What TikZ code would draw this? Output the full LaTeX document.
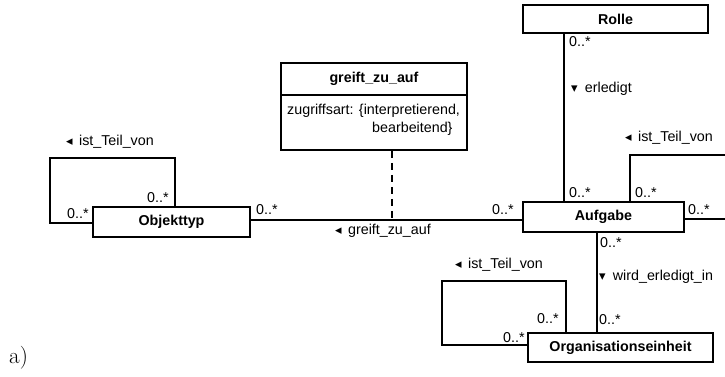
\documentclass[tikz,border=0pt]{standalone}
\usepackage{fontspec}
\newfontfamily\umlfont{Liberation Sans}
\newfontfamily\symfont{DejaVu Sans}
\newcommand\tri[1]{{\symfont\fontsize{13}{14}\selectfont #1}}
\begin{document}
\begin{tikzpicture}[x=1pt,y=-1pt,
  cls/.style={draw,line width=1.8pt,fill=white,inner sep=0pt,font=\umlfont\fontsize{14.3}{16}\selectfont\bfseries},
  conn/.style={line width=1.8pt},
  lbl/.style={anchor=base west,inner sep=0pt,font=\umlfont\fontsize{14.3}{16}\selectfont}]
\useasboundingbox (0,0) rectangle (725,377);
% classes
\node[cls,minimum width=185pt,minimum height=28pt] (rolle) at (615.5,19) {Rolle};
\node[cls,minimum width=161pt,minimum height=30pt] (auf) at (603.5,217) {Aufgabe};
\node[cls,minimum width=157pt,minimum height=30pt] (obj) at (171.5,222) {Objekttyp};
\node[cls,minimum width=185pt,minimum height=29pt] (org) at (620.5,347.5) {Organisationseinheit};
\node[cls,minimum width=186pt,minimum height=87pt] (gz) at (374,106.5) {};
\draw[conn] (gz.west |- 0,95) coordinate (dl) -- (gz.east |- 0,95) coordinate (dr);
\node[lbl,anchor=base] (gzt) at (374,83) {\bfseries greift\_zu\_auf};
\node[lbl] (gza1) at (287,115) {zugriffsart: \{interpretierend,};
\node[lbl] (gza2) at (372,132) {bearbeitend\}};
% connectors
\coordinate (mid) at (392,220);
\draw[conn] (obj.east |- 0,220) -- (auf.west |- 0,220);
\draw[conn,dash pattern=on 7pt off 5pt] (gz.south -| mid) -- (mid);
\draw[conn] (rolle.south -| 564,0) -- (auf.north -| 564,0);
\draw[conn] (auf.south -| 597,0) -- (org.north -| 597,0);
\draw[conn] (obj.north -| 175,0) -- (175,158) -- (50,158) -- (50,223) -- (obj.west |- 0,223);
\coordinate (e1) at (727,155);
\coordinate (e2) at (727,219);
\draw[conn] (auf.north -| 630,0) -- (630,155) -- (e1);
\draw[conn] (auf.east |- 0,219) -- (e2);
\draw[conn] (org.north -| 566,0) -- (566,281) -- (442,281) -- (442,345) -- (org.west |- 0,345);
% multiplicities
\node[lbl] (m1) at (147,202) {0..*};
\node[lbl] (m2) at (67,218) {0..*};
\node[lbl] (m3) at (256,214) {0..*};
\node[lbl] (m4) at (492,214) {0..*};
\node[lbl] (m5) at (569,47) {0..*};
\node[lbl] (m6) at (569,197) {0..*};
\node[lbl] (m7) at (635,197) {0..*};
\node[lbl] (m8) at (688,214) {0..*};
\node[lbl] (m9) at (600,247) {0..*};
\node[lbl] (m10) at (599,324) {0..*};
\node[lbl] (m11) at (537,323) {0..*};
\node[lbl] (m12) at (503,342) {0..*};
% role labels
\node[lbl] (r1) at (66,146) {\tri{◂}\, ist\_Teil\_von};
\node[lbl] (r2) at (335,234) {\tri{◂}\, greift\_zu\_auf};
\node[lbl] (r3) at (571,93) {\tri{▾}\enspace erledigt};
\node[lbl] (r4) at (625,142) {\tri{◂}\, ist\_Teil\_von};
\node[lbl] (r5) at (455,268) {\tri{◂}\, ist\_Teil\_von};
\node[lbl] (r6) at (599,280) {\tri{▾}\enspace wird\_erledigt\_in};
% caption
\node[anchor=base west,inner sep=0pt,font=\fontsize{23}{26}\selectfont] (cap) at (9,363) {a)};
\end{tikzpicture}
\end{document}
